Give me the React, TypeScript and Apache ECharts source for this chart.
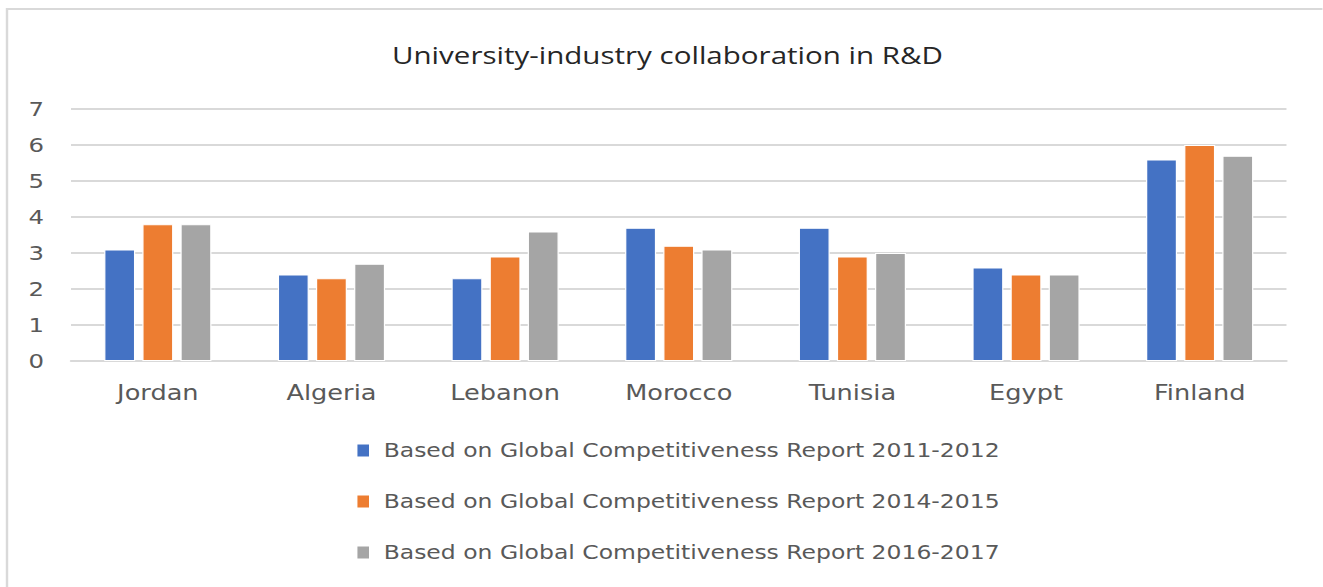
import React, { useEffect, useRef } from "react";
import * as echarts from "echarts";

const categories = ["Jordan", "Algeria", "Lebanon", "Morocco", "Tunisia", "Egypt", "Finland"];
const seriesNames = [
  "Based on Global Competitiveness Report 2011-2012",
  "Based on Global Competitiveness Report 2014-2015",
  "Based on Global Competitiveness Report 2016-2017",
];
const values2011 = [3.1, 2.4, 2.3, 3.7, 3.7, 2.6, 5.6];
const values2014 = [3.8, 2.3, 2.9, 3.2, 2.9, 2.4, 6.0];
const values2016 = [3.8, 2.7, 3.6, 3.1, 3.0, 2.4, 5.7];
const colors = ["#4472C4", "#ED7D31", "#A5A5A5"];
const yTicks = { min: 0, max: 7, interval: 1 };

// The reference picture is stretched horizontally; reproduce that look.
const STRETCH = 1.22;
const PAGE_W = 1323;
const PAGE_H = 587;

export default function App() {
  const ref = useRef<HTMLDivElement>(null);
  useEffect(() => {
    if (!ref.current) return;
    const chart = echarts.init(ref.current, undefined, { renderer: "svg" });
    const data = [values2011, values2014, values2016];
    const sx = (v: number) => v / STRETCH;
    chart.setOption({
      animation: false,
      backgroundColor: "#ffffff",
      color: colors,
      graphic: [
        {
          type: "rect",
          shape: { x: sx(7), y: 9, width: 1400, height: 700 },
          style: { fill: "none", stroke: "#d9d9d9", lineWidth: 2 },
          silent: true,
        },
      ],
      title: {
        text: "University-industry collaboration in R&D",
        left: sx(392) - 5,
        top: 38,
        textStyle: {
          fontFamily: "Open Sans",
          fontWeight: "normal",
          fontSize: 24.2,
          color: "#262626",
        },
      },
      grid: { left: sx(71), right: sx(36), top: 109, bottom: 226, containLabel: false },
      xAxis: {
        type: "category",
        data: categories,
        axisTick: { show: false },
        axisLine: { lineStyle: { color: "#d9d9d9", width: 2 } },
        axisLabel: {
          color: "#595959",
          fontFamily: "DejaVu Sans",
          fontSize: 21,
          margin: 21,
        },
      },
      yAxis: {
        type: "value",
        min: yTicks.min,
        max: yTicks.max,
        interval: yTicks.interval,
        axisLine: { show: false },
        axisTick: { show: false },
        splitLine: { lineStyle: { color: "#d9d9d9", width: 2 } },
        axisLabel: {
          color: "#595959",
          fontFamily: "DejaVu Sans",
          fontSize: 20,
          margin: sx(27),
        },
      },
      legend: {
        orient: "vertical",
        left: sx(355) - 5,
        top: 436,
        icon: "rect",
        itemWidth: sx(14),
        itemHeight: 14,
        itemGap: 32,
        textStyle: {
          color: "#595959",
          fontFamily: "DejaVu Sans",
          fontSize: 19.25,
          padding: [0, 0, 0, 6],
        },
        data: seriesNames,
      },
      series: seriesNames.map((name, i) => ({
        name,
        type: "bar",
        data: data[i],
        barWidth: sx(31),
        barGap: "23%",
        itemStyle: { color: colors[i], borderColor: "#ffffff", borderWidth: 1 },
      })),
    });
    return () => chart.dispose();
  }, []);
  return (
    <div
      style={{
        position: "fixed",
        left: 0,
        top: 0,
        width: PAGE_W,
        height: PAGE_H,
        overflow: "hidden",
        background: "#ffffff",
      }}
    >
      <div
        ref={ref}
        style={{
          width: PAGE_W / STRETCH,
          height: PAGE_H,
          transform: `scaleX(${STRETCH})`,
          transformOrigin: "0 0",
        }}
      />
    </div>
  );
}
